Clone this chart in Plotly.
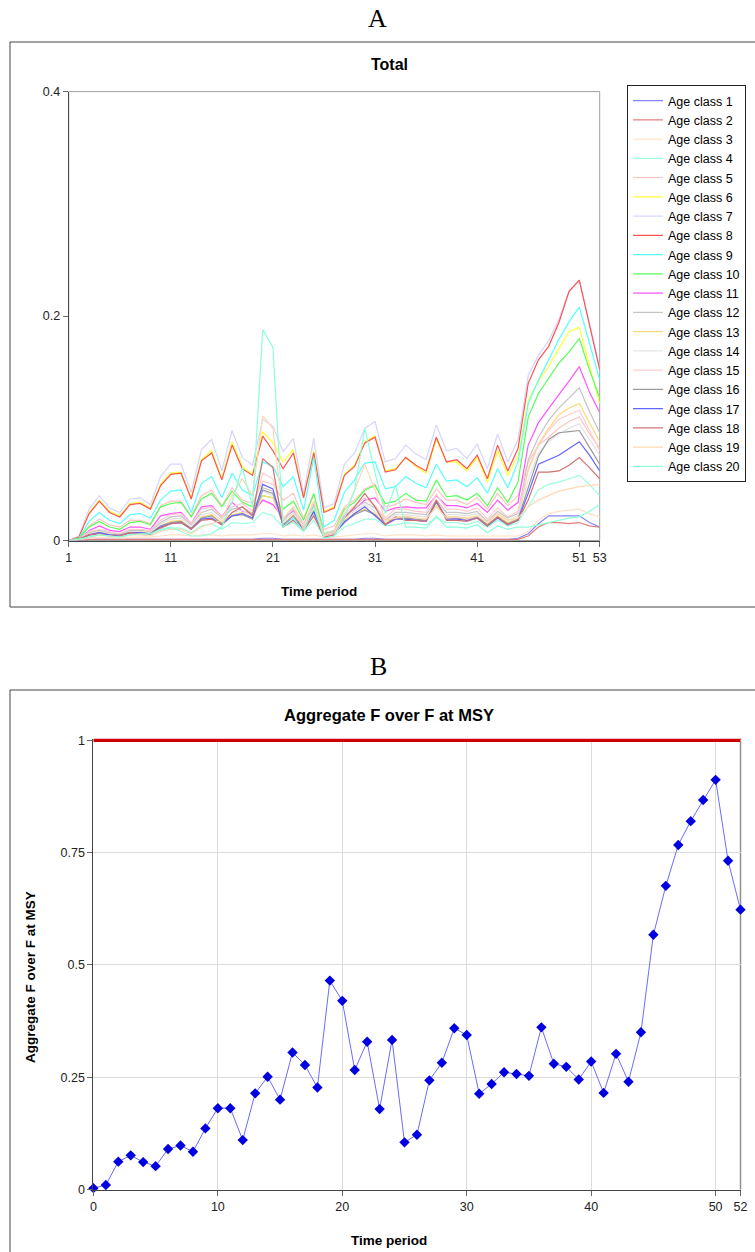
import plotly.graph_objects as go

# ---------------- Panel A data (F by age class, time periods 1..53) ----------------
periods_a = list(range(1, 54))
ticks_a_x = [1, 11, 21, 31, 41, 51, 53]
ticks_a_y = [0, 0.2, 0.4]
ticklabels_a_y = ["0", "0.2", "0.4"]

age_class_1 = [0.000,0.000,0.001,0.001,0.001,0.001,0.001,0.001,0.001,0.001,
               0.001,0.001,0.001,0.001,0.001,0.001,0.001,0.001,0.001,0.002,
               0.002,0.001,0.001,0.001,0.001,0.001,0.001,0.001,0.001,0.002,
               0.002,0.001,0.001,0.001,0.001,0.001,0.001,0.001,0.001,0.001,
               0.001,0.001,0.001,0.001,0.002,0.006,0.015,0.022,0.022,0.022,
               0.022,0.016,0.012]
age_class_2 = [0.000,0.000,0.001,0.001,0.001,0.001,0.001,0.001,0.001,0.001,
               0.001,0.001,0.001,0.001,0.001,0.001,0.001,0.001,0.001,0.001,
               0.001,0.001,0.001,0.001,0.001,0.001,0.001,0.001,0.001,0.001,
               0.001,0.001,0.001,0.001,0.001,0.001,0.001,0.001,0.001,0.001,
               0.001,0.001,0.001,0.001,0.001,0.004,0.012,0.016,0.016,0.015,
               0.016,0.013,0.012]
age_class_3 = [0.000,0.001,0.002,0.003,0.003,0.002,0.003,0.003,0.003,0.004,
               0.005,0.005,0.004,0.005,0.005,0.004,0.005,0.005,0.005,0.006,
               0.006,0.004,0.005,0.004,0.005,0.003,0.003,0.004,0.005,0.006,
               0.006,0.004,0.005,0.005,0.005,0.004,0.005,0.004,0.004,0.004,
               0.004,0.004,0.004,0.004,0.004,0.008,0.018,0.024,0.026,0.027,
               0.028,0.024,0.021]
age_class_4 = [0.000,0.001,0.004,0.006,0.004,0.004,0.006,0.006,0.005,0.009,
               0.011,0.011,0.007,0.013,0.015,0.010,0.016,0.015,0.016,0.025,
               0.022,0.012,0.016,0.008,0.018,0.003,0.004,0.012,0.015,0.019,
               0.019,0.013,0.014,0.016,0.015,0.014,0.020,0.016,0.016,0.014,
               0.017,0.012,0.018,0.013,0.016,0.030,0.045,0.050,0.052,0.055,
               0.058,0.050,0.040]
age_class_5 = [0.000,0.002,0.013,0.019,0.014,0.012,0.018,0.018,0.015,0.031,
               0.035,0.035,0.022,0.040,0.045,0.031,0.047,0.036,0.033,0.053,
               0.050,0.036,0.042,0.020,0.040,0.010,0.013,0.030,0.036,0.046,
               0.050,0.030,0.032,0.037,0.034,0.032,0.046,0.036,0.036,0.032,
               0.038,0.028,0.042,0.031,0.040,0.070,0.085,0.092,0.100,0.106,
               0.110,0.095,0.082]
age_class_6 = [0.000,0.003,0.025,0.036,0.026,0.022,0.033,0.034,0.029,0.050,
               0.060,0.061,0.038,0.072,0.080,0.055,0.088,0.066,0.059,0.097,
               0.087,0.070,0.081,0.039,0.080,0.026,0.030,0.059,0.067,0.088,
               0.093,0.062,0.064,0.074,0.066,0.060,0.090,0.070,0.070,0.062,
               0.074,0.052,0.080,0.058,0.075,0.125,0.142,0.155,0.171,0.186,
               0.190,0.155,0.122]
age_class_7 = [0.000,0.004,0.028,0.040,0.029,0.025,0.037,0.038,0.032,0.057,
               0.068,0.068,0.043,0.081,0.090,0.062,0.098,0.074,0.067,0.108,
               0.102,0.079,0.091,0.042,0.091,0.029,0.033,0.068,0.078,0.100,
               0.106,0.070,0.073,0.085,0.077,0.072,0.103,0.080,0.082,0.073,
               0.086,0.064,0.095,0.070,0.090,0.147,0.165,0.178,0.197,0.222,
               0.232,0.192,0.155]
age_class_8 = [0.000,0.003,0.024,0.035,0.025,0.021,0.032,0.033,0.028,0.049,
               0.059,0.060,0.037,0.071,0.078,0.054,0.085,0.064,0.058,0.093,
               0.080,0.064,0.078,0.038,0.078,0.025,0.029,0.058,0.066,0.087,
               0.092,0.061,0.063,0.074,0.067,0.062,0.092,0.070,0.072,0.064,
               0.076,0.055,0.085,0.062,0.082,0.140,0.161,0.173,0.194,0.222,
               0.232,0.192,0.152]
age_class_9 = [0.000,0.002,0.017,0.025,0.018,0.015,0.023,0.024,0.020,0.036,
               0.044,0.045,0.025,0.051,0.057,0.038,0.060,0.045,0.040,0.070,
               0.066,0.048,0.057,0.027,0.074,0.012,0.018,0.043,0.054,0.069,
               0.070,0.046,0.048,0.057,0.051,0.047,0.068,0.053,0.054,0.048,
               0.056,0.042,0.064,0.047,0.070,0.122,0.143,0.161,0.179,0.195,
               0.208,0.176,0.143]
age_class_10 = [0.000,0.002,0.012,0.017,0.012,0.010,0.016,0.017,0.014,0.030,
                0.033,0.034,0.021,0.037,0.042,0.030,0.044,0.034,0.030,0.040,
                0.038,0.028,0.035,0.018,0.042,0.006,0.009,0.028,0.034,0.045,
                0.049,0.033,0.035,0.042,0.036,0.035,0.054,0.039,0.040,0.036,
                0.042,0.031,0.047,0.034,0.052,0.110,0.131,0.145,0.158,0.168,
                0.180,0.152,0.127]
age_class_11 = [0.000,0.001,0.009,0.013,0.009,0.008,0.012,0.012,0.010,0.022,
                0.024,0.025,0.015,0.030,0.031,0.021,0.034,0.026,0.024,0.036,
                0.032,0.020,0.026,0.012,0.032,0.004,0.006,0.022,0.028,0.036,
                0.038,0.026,0.029,0.030,0.029,0.029,0.040,0.031,0.031,0.029,
                0.033,0.025,0.036,0.027,0.034,0.085,0.105,0.118,0.130,0.142,
                0.155,0.132,0.114]
age_class_12 = [0.000,0.001,0.007,0.009,0.007,0.006,0.009,0.009,0.008,0.016,
                0.021,0.022,0.014,0.025,0.028,0.020,0.028,0.030,0.024,0.047,
                0.044,0.017,0.028,0.014,0.032,0.005,0.008,0.022,0.029,0.034,
                0.029,0.018,0.025,0.025,0.024,0.023,0.036,0.025,0.025,0.024,
                0.026,0.017,0.026,0.020,0.024,0.072,0.092,0.107,0.118,0.127,
                0.136,0.115,0.096]
age_class_13 = [0.000,0.001,0.006,0.008,0.006,0.005,0.008,0.008,0.007,0.013,
                0.017,0.018,0.011,0.021,0.023,0.016,0.023,0.025,0.020,0.040,
                0.038,0.014,0.023,0.011,0.027,0.004,0.007,0.018,0.024,0.028,
                0.024,0.015,0.021,0.021,0.020,0.019,0.031,0.021,0.021,0.020,
                0.022,0.014,0.022,0.016,0.020,0.064,0.086,0.100,0.112,0.118,
                0.122,0.105,0.088]
age_class_14 = [0.000,0.001,0.006,0.008,0.006,0.005,0.008,0.008,0.007,0.015,
                0.019,0.020,0.013,0.023,0.025,0.018,0.025,0.027,0.022,0.044,
                0.040,0.016,0.025,0.013,0.029,0.004,0.007,0.020,0.026,0.032,
                0.026,0.017,0.023,0.023,0.022,0.021,0.035,0.023,0.023,0.022,
                0.024,0.016,0.024,0.018,0.022,0.054,0.078,0.088,0.095,0.100,
                0.104,0.090,0.076]
age_class_15 = [0.000,0.001,0.008,0.010,0.008,0.006,0.010,0.010,0.009,0.018,
                0.023,0.024,0.015,0.028,0.030,0.021,0.030,0.033,0.026,0.060,
                0.055,0.019,0.030,0.015,0.035,0.005,0.009,0.024,0.031,0.038,
                0.031,0.020,0.028,0.028,0.026,0.025,0.041,0.028,0.028,0.026,
                0.029,0.019,0.029,0.021,0.026,0.062,0.085,0.098,0.108,0.112,
                0.116,0.098,0.080]
age_class_16 = [0.000,0.001,0.005,0.007,0.005,0.005,0.007,0.007,0.006,0.013,
                0.016,0.017,0.011,0.020,0.022,0.015,0.022,0.023,0.019,0.045,
                0.042,0.014,0.022,0.011,0.025,0.004,0.006,0.017,0.023,0.027,
                0.023,0.014,0.020,0.020,0.019,0.018,0.034,0.020,0.020,0.019,
                0.021,0.014,0.021,0.015,0.019,0.048,0.075,0.090,0.096,0.097,
                0.098,0.083,0.068]
age_class_17 = [0.000,0.001,0.005,0.007,0.005,0.004,0.007,0.007,0.006,0.012,
                0.015,0.016,0.010,0.019,0.020,0.014,0.022,0.024,0.020,0.050,
                0.046,0.013,0.020,0.010,0.026,0.003,0.006,0.016,0.024,0.030,
                0.022,0.014,0.019,0.019,0.018,0.017,0.035,0.019,0.019,0.018,
                0.020,0.013,0.020,0.014,0.018,0.042,0.068,0.072,0.076,0.082,
                0.088,0.076,0.062]
age_class_18 = [0.000,0.001,0.005,0.006,0.004,0.004,0.007,0.006,0.006,0.011,
                0.015,0.016,0.010,0.018,0.019,0.014,0.025,0.030,0.022,0.073,
                0.065,0.012,0.018,0.009,0.022,0.003,0.005,0.020,0.030,0.042,
                0.030,0.014,0.021,0.018,0.018,0.017,0.036,0.018,0.018,0.017,
                0.020,0.013,0.021,0.014,0.018,0.036,0.061,0.061,0.062,0.067,
                0.074,0.065,0.055]
age_class_19 = [0.000,0.001,0.003,0.005,0.004,0.003,0.005,0.005,0.004,0.008,
                0.010,0.010,0.006,0.012,0.015,0.018,0.040,0.055,0.040,0.111,
                0.100,0.020,0.030,0.010,0.035,0.004,0.006,0.025,0.045,0.068,
                0.045,0.018,0.020,0.022,0.020,0.019,0.030,0.020,0.021,0.019,
                0.022,0.016,0.024,0.018,0.020,0.030,0.036,0.040,0.044,0.046,
                0.048,0.049,0.050]
age_class_20 = [0.000,0.001,0.003,0.005,0.004,0.003,0.005,0.006,0.006,0.010,
                0.012,0.008,0.004,0.004,0.006,0.012,0.035,0.065,0.030,0.188,
                0.172,0.012,0.020,0.008,0.030,0.002,0.004,0.020,0.045,0.100,
                0.060,0.024,0.049,0.012,0.012,0.011,0.022,0.012,0.012,0.011,
                0.014,0.007,0.013,0.010,0.012,0.012,0.014,0.016,0.018,0.020,
                0.021,0.026,0.032]

age_series = [age_class_1, age_class_2, age_class_3, age_class_4, age_class_5,
              age_class_6, age_class_7, age_class_8, age_class_9, age_class_10,
              age_class_11, age_class_12, age_class_13, age_class_14, age_class_15,
              age_class_16, age_class_17, age_class_18, age_class_19, age_class_20]
age_names = ["Age class %d" % i for i in range(1, 21)]
age_colors = ["#8484ff", "#e07c7c", "#ffe2c6", "#9cffdc", "#ffc4c4",
              "#ffff33", "#d4d4ff", "#ff5252", "#55ffff", "#55ff55",
              "#ff55ff", "#c4c4c4", "#ffd87a", "#e2e2e2", "#ffcccc",
              "#9a9a9a", "#6464ff", "#d07070", "#ffd8b4", "#8cffd8"]

# ---------------- Panel B data (Aggregate F / F_MSY, periods 0..52) ----------------
periods_b = list(range(0, 53))
f_over_fmsy = [0.003,0.010,0.062,0.076,0.061,0.052,0.090,0.098,0.084,0.136,
               0.181,0.181,0.110,0.214,0.251,0.200,0.305,0.277,0.227,0.465,
               0.420,0.266,0.329,0.179,0.333,0.105,0.122,0.243,0.282,0.359,
               0.344,0.213,0.235,0.261,0.257,0.253,0.361,0.280,0.273,0.245,
               0.285,0.215,0.302,0.240,0.350,0.567,0.676,0.767,0.820,0.867,
               0.912,0.732,0.623]
msy_ref_x = [0, 52]
msy_ref_y = [1, 1]
ticks_b_x = [0, 10, 20, 30, 40, 50, 52]
ticks_b_y = [0, 0.25, 0.5, 0.75, 1]
ticklabels_b_y = ["0", "0.25", "0.5", "0.75", "1"]

W, H = 755, 1252
FONT = "Liberation Sans, Arial, sans-serif"
SERIF = "Liberation Serif, Times New Roman, serif"

def px_x(p):
    return p / W

def px_y(p):
    return 1 - p / H

fig = go.Figure()

for vals, name, col in zip(age_series, age_names, age_colors):
    fig.add_trace(go.Scatter(x=periods_a, y=vals, mode="lines", name=name,
                             line=dict(color=col, width=1.2),
                             xaxis="x", yaxis="y", showlegend=True))

fig.add_trace(go.Scatter(x=msy_ref_x, y=msy_ref_y, mode="lines",
                         line=dict(color="#d00000", width=3.5),
                         xaxis="x2", yaxis="y2", showlegend=False))
fig.add_trace(go.Scatter(x=periods_b, y=f_over_fmsy, mode="lines+markers",
                         line=dict(color="#6b6bff", width=1),
                         marker=dict(symbol="diamond", size=8, color="#0000e0"),
                         cliponaxis=False,
                         xaxis="x2", yaxis="y2", showlegend=False))

axis_font = dict(family=FONT, size=12.5, color="#222")

fig.update_layout(
    width=W, height=H,
    margin=dict(l=0, r=0, t=0, b=0),
    paper_bgcolor="white", plot_bgcolor="white",
    font=dict(family=FONT, color="#000"),
    xaxis=dict(domain=[px_x(68.7), px_x(599.7)], range=[1, 53],
               tickmode="array", tickvals=ticks_a_x,
               showgrid=False, zeroline=False,
               showline=True, linecolor="#444", linewidth=1,
               ticks="outside", ticklen=5, tickcolor="#666",
               tickfont=axis_font, anchor="y", automargin=False),
    yaxis=dict(domain=[px_y(540.5), px_y(91.6)], range=[0, 0.4],
               tickmode="array", tickvals=ticks_a_y, ticktext=ticklabels_a_y,
               showgrid=False, zeroline=False,
               showline=True, linecolor="#444", linewidth=1,
               ticks="outside", ticklen=5, tickcolor="#666",
               tickfont=axis_font, anchor="x", automargin=False),
    xaxis2=dict(domain=[px_x(93.4), px_x(740.5)], range=[0, 52],
                tickmode="array", tickvals=ticks_b_x,
                showgrid=True, gridcolor="#dcdcdc", gridwidth=1, zeroline=False,
                showline=True, linecolor="#444", linewidth=1.5,
                ticks="outside", ticklen=5, tickcolor="#666",
                tickfont=axis_font, anchor="y2", automargin=False),
    yaxis2=dict(domain=[px_y(1189.5), px_y(738.5)], range=[0, 1.004],
                tickmode="array", tickvals=ticks_b_y, ticktext=ticklabels_b_y,
                showgrid=True, gridcolor="#dcdcdc", gridwidth=1, zeroline=False,
                showline=True, linecolor="#444", linewidth=1,
                ticks="outside", ticklen=5, tickcolor="#666",
                tickfont=axis_font, anchor="x2", automargin=False),
    legend=dict(x=px_x(627), y=px_y(85), xanchor="left", yanchor="top",
                bordercolor="#222", borderwidth=1, bgcolor="white",
                font=dict(family=FONT, size=12.5, color="#000"),
                itemwidth=30, tracegroupgap=0),
)

FR = dict(color="#444", width=1)
shapes = [
    # frame A: top, left, bottom (right edge lies outside the picture)
    dict(type="line", xref="paper", yref="paper", x0=px_x(10), x1=1, y0=px_y(42), y1=px_y(42), line=FR),
    dict(type="line", xref="paper", yref="paper", x0=px_x(10), x1=px_x(10), y0=px_y(607), y1=px_y(42), line=FR),
    dict(type="line", xref="paper", yref="paper", x0=px_x(10), x1=1, y0=px_y(607), y1=px_y(607), line=FR),
    # frame B: top, left
    dict(type="line", xref="paper", yref="paper", x0=px_x(10), x1=1, y0=px_y(690), y1=px_y(690), line=FR),
    dict(type="line", xref="paper", yref="paper", x0=px_x(10), x1=px_x(10), y0=0, y1=px_y(690), line=FR),
    # plot area borders (light)
    dict(type="rect", xref="x domain", yref="y domain", x0=0, x1=1, y0=0, y1=1,
         line=dict(color="#a0a0a0", width=1), layer="below"),
    dict(type="line", xref="x2 domain", yref="y2 domain", x0=1, x1=1, y0=0, y1=1,
         line=dict(color="#909090", width=1.5), layer="below"),
]
fig.update_layout(shapes=shapes)

def ann(text, xp, yp, size, family=FONT, angle=0):
    return dict(text=text, x=px_x(xp), y=px_y(yp), xref="paper", yref="paper",
                xanchor="center", yanchor="middle", showarrow=False,
                textangle=angle, font=dict(family=family, size=size, color="#000"))

annotations = [
    ann("A", 377, 18, 26, SERIF),
    ann("B", 378, 667, 26, SERIF),
    ann("<b>Total</b>", 389, 65, 16),
    ann("<b>Time period</b>", 318.5, 591, 13.5),
    ann("<b>Aggregate F over F at MSY</b>", 389, 715, 16.5),
    ann("<b>Time period</b>", 389, 1240, 13.5),
    ann("<b>Aggregate F over F at MSY</b>", 30, 977, 13.5, angle=-90),
]
fig.update_layout(annotations=annotations)

fig.write_html(
    "out.html",
    config={"displayModeBar": False, "staticPlot": True},
    post_script=("document.documentElement.style.margin='0px';"
                 "document.documentElement.style.padding='0px';"
                 "document.documentElement.style.overflow='hidden';"
                 "document.body.style.margin='0px';"
                 "document.body.style.padding='0px';"
                 "document.body.style.overflow='hidden';"),
)
